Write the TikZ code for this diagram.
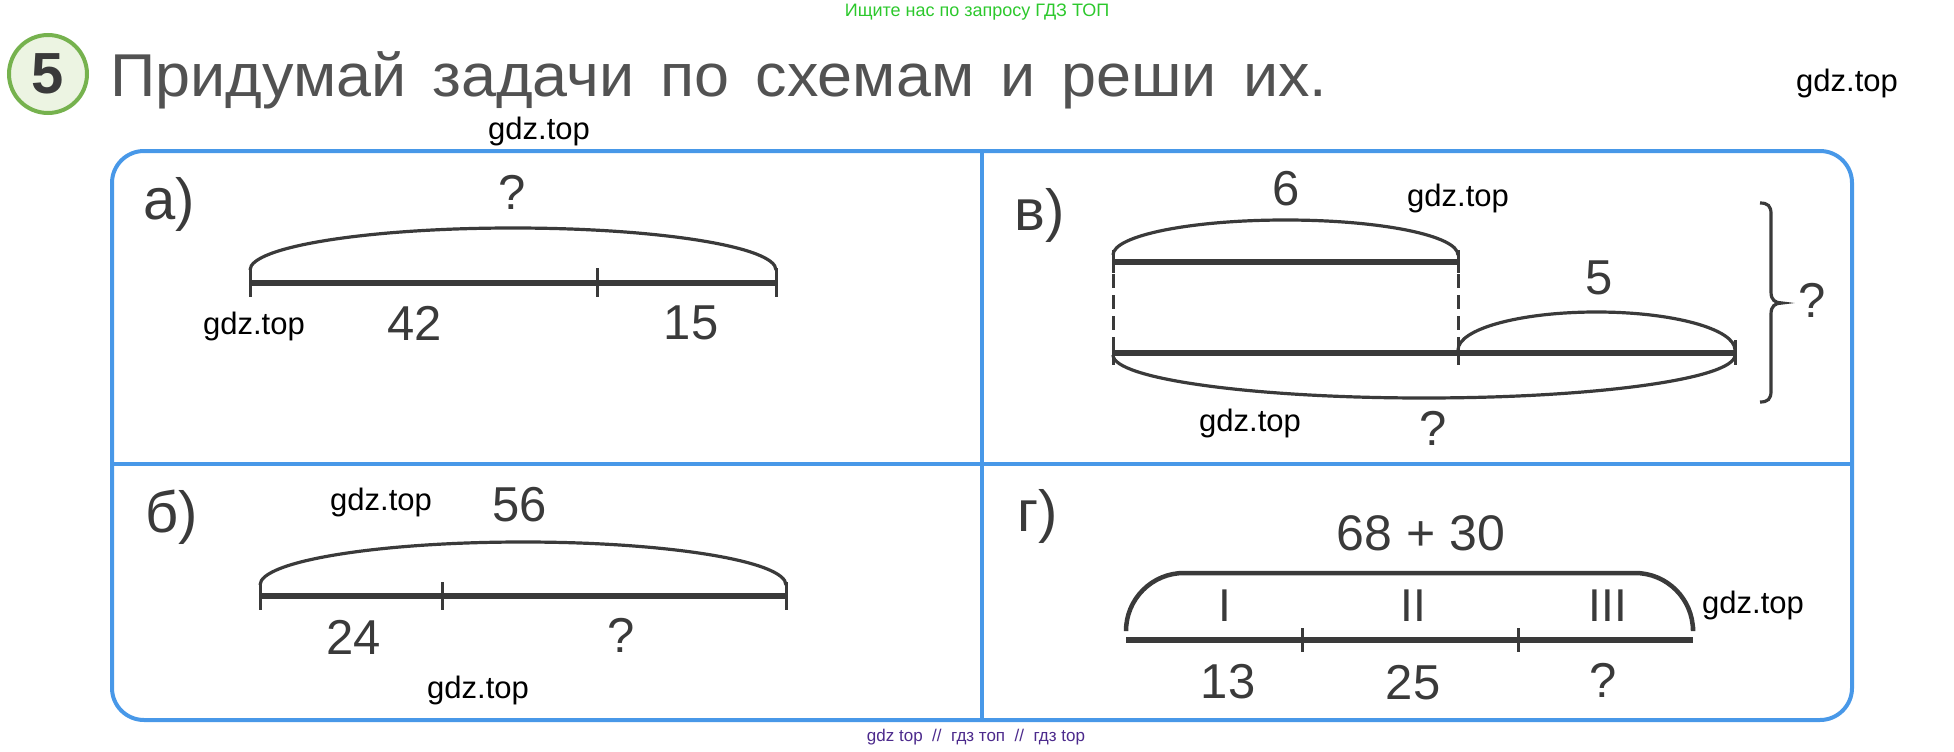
\documentclass[tikz,border=0pt]{standalone}
\usepackage{fontspec}
\setmainfont{Liberation Sans}
\newfontfamily\titlefont[FakeStretch=1.04]{Liberation Sans}
\definecolor{boxblue}{RGB}{72,152,232}
\definecolor{ink}{RGB}{58,58,58}
\definecolor{titlegrey}{RGB}{82,82,82}
\definecolor{circstroke}{RGB}{118,178,78}
\definecolor{circfill}{RGB}{236,244,226}
\definecolor{topgreen}{RGB}{44,200,44}
\definecolor{footpurple}{RGB}{76,42,140}
\tikzset{
  lbl/.style={inner sep=0pt, text=ink, font=\fontsize{49}{50}\selectfont},
  part/.style={inner sep=0pt, text=ink, font=\fontsize{58}{60}\selectfont},
  wm/.style={inner sep=0pt, text=black, font=\fontsize{31}{32}\selectfont},
  seg/.style={draw=ink, line width=6pt},
  tickline/.style={draw=ink, line width=3pt},
  arcline/.style={draw=ink, line width=3.2pt},
  frame/.style={draw=boxblue, line width=4pt},
}
\begin{document}
\begin{tikzpicture}[x=1pt,y=-1pt]
\useasboundingbox (0,0) rectangle (1954,752);
% header
\node[inner sep=0pt, text=topgreen, font=\fontsize{18}{20}\selectfont] (top) at (977,12) {Ищите нас по запросу ГДЗ ТОП};
\node[circle, draw=circstroke, fill=circfill, line width=4pt, minimum size=78pt, inner sep=0pt] (num) at (48,74) {};
\node[inner sep=0pt, text=ink, font=\fontsize{58}{60}\selectfont\bfseries] (numtxt) at (48,74) {5};
\node[inner sep=0pt, anchor=base west, text=titlegrey, font=\titlefont\fontsize{60.5}{62}\selectfont] (title) at (110,96) {Придумай\hspace{26pt}задачи\hspace{26pt}по\hspace{26pt}схемам\hspace{26pt}и\hspace{26pt}реши\hspace{26pt}их.};
\node[wm] (w1) at (1847,83) {gdz.top};
\node[wm] (w2) at (539,131) {gdz.top};
% frame
\coordinate (tl) at (112,151);
\coordinate (br) at (1852,720);
\draw[frame, rounded corners=32pt] (tl) rectangle (br);
\coordinate (vt) at (982,151);
\coordinate (vb) at (982,720);
\coordinate (hl) at (112,464);
\coordinate (hr) at (1852,464);
\draw[frame] (vt) -- (vb);
\draw[frame] (hl) -- (hr);
% ---------- a)
\node[part] (pa) at (169,204) {а)};
\coordinate (a0) at (250,283);
\coordinate (a1) at (597,283);
\coordinate (a2) at (776,283);
\draw[seg] (a0) -- (a2);
\foreach \c in {a0,a1,a2} \draw[tickline] ([yshift=15pt]\c) -- ([yshift=-14pt]\c);
\draw[arcline] ([yshift=13pt]a0) arc[start angle=180, end angle=360, x radius=263, y radius=42];
\node[lbl] (aq) at (512,192) {?};
\node[lbl] (a42) at (415,323) {42};
\node[lbl] (a15) at (691,323) {15};
\node[wm] (aw) at (254,326) {gdz.top};
% ---------- в)
\node[part] (pv) at (1040,215) {в)};
\coordinate (v0) at (1113,262);
\coordinate (v1) at (1458,262);
\coordinate (u0) at (1113,353);
\coordinate (u1) at (1458,353);
\coordinate (u2) at (1735,353);
\draw[seg] (v0) -- (v1);
\draw[seg] (u0) -- (u2);
\foreach \c in {v0,v1} \draw[tickline] ([yshift=12pt]\c) -- ([yshift=-11pt]\c);
\foreach \c in {u0,u1,u2} \draw[tickline] ([yshift=13pt]\c) -- ([yshift=-12pt]\c);
\draw[tickline, dash pattern=on 14pt off 7pt] ([yshift=-12pt]v0) -- ([yshift=12pt]u0);
\draw[tickline, dash pattern=on 14pt off 7pt] ([yshift=-12pt]v1) -- ([yshift=12pt]u1);
\draw[arcline] ([yshift=7pt]v0) arc[start angle=180, end angle=360, x radius=172.5, y radius=35];
\draw[arcline] ([yshift=3pt]u1) arc[start angle=180, end angle=360, x radius=138.5, y radius=38];
\draw[arcline] ([yshift=-2pt]u0) arc[start angle=180, end angle=0, x radius=311, y radius=43];
\coordinate (b0) at (1760,203);
\coordinate (bt) at (1782,303);
\coordinate (b1) at (1760,402);
\draw[arcline] (b0) .. controls (1768,203) and (1771,206) .. (1771,214) -- (1771,292)
  .. controls (1771,300) and (1775,303) .. (bt)
  .. controls (1775,303) and (1771,306) .. (1771,314) -- (1771,391)
  .. controls (1771,399) and (1768,402) .. (b1);
\node[lbl] (v6) at (1286,189) {6};
\node[lbl] (v5) at (1599,278) {5};
\node[lbl] (vq) at (1433,428) {?};
\node[lbl] (vbq) at (1812,300) {?};
\node[wm] (vw1) at (1458,198) {gdz.top};
\node[wm] (vw2) at (1250,423) {gdz.top};
% ---------- б)
\node[part] (pb) at (172,517) {б)};
\coordinate (c0) at (260,596);
\coordinate (c1) at (442,596);
\coordinate (c2) at (786,596);
\draw[seg] (c0) -- (c2);
\foreach \c in {c0,c1,c2} \draw[tickline] ([yshift=14pt]\c) -- ([yshift=-14pt]\c);
\draw[arcline] ([yshift=11pt]c0) arc[start angle=180, end angle=360, x radius=263, y radius=43];
\node[lbl] (b56) at (520,505) {56};
\node[lbl] (b24) at (354,637) {24};
\node[lbl] (bq) at (621,635) {?};
\node[wm] (bw1) at (381,502) {gdz.top};
\node[wm] (bw2) at (478,690) {gdz.top};
% ---------- г)
\node[part] (pg) at (1038,516) {г)};
\coordinate (d0) at (1126,640);
\coordinate (d1) at (1302,640);
\coordinate (d2) at (1518,640);
\coordinate (d3) at (1693,640);
\draw[seg] (d0) -- (d3);
\foreach \c in {d1,d2} \draw[tickline] ([yshift=12pt]\c) -- ([yshift=-12pt]\c);
\draw[draw=ink, line width=4.5pt, rounded corners=58pt] ([yshift=13pt]d0) -- (1126,573) -- (1693,573) -- ([yshift=13pt]d3);
\node[lbl, font=\fontsize{46}{48}\selectfont] (g1) at (1225,606) {I};
\node[lbl, font=\fontsize{46}{48}\selectfont] (g2) at (1413,606) {II};
\node[lbl, font=\fontsize{46}{48}\selectfont] (g3) at (1608,606) {III};
\node[lbl, font=\fontsize{50}{52}\selectfont] (gsum) at (1421,533) {68 + 30};
\node[lbl] (g13) at (1228,682) {13};
\node[lbl] (g25) at (1413,683) {25};
\node[lbl] (gq) at (1603,680) {?};
\node[wm] (gw) at (1753,605) {gdz.top};
% footer
\node[inner sep=0pt, text=footpurple, font=\fontsize{17}{18}\selectfont] (foot) at (976,737) {gdz top \ // \ гдз топ \ // \ гдз top};
\end{tikzpicture}
\end{document}
